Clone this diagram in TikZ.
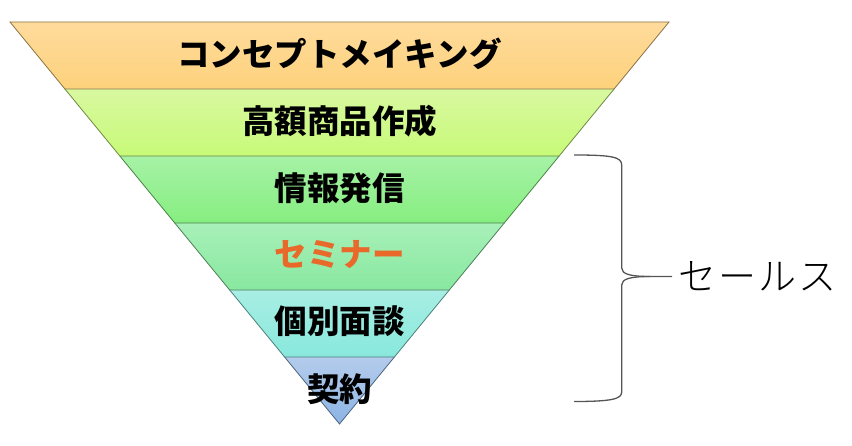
\documentclass[tikz,border=0pt]{standalone}
\usepackage{fontspec}
\setmainfont{Noto Sans CJK JP}[BoldFont={Noto Sans CJK JP Black}]
\newfontfamily\lightjp{Noto Sans CJK JP Light}
\usetikzlibrary{calc}
\definecolor{cAt}{HTML}{FFDB9C}\definecolor{cAb}{HTML}{FDD27C}
\definecolor{cBt}{HTML}{D8F8A0}\definecolor{cBb}{HTML}{C8FA78}
\definecolor{cCt}{HTML}{A6F2A6}\definecolor{cCb}{HTML}{86EE80}
\definecolor{cDt}{HTML}{A8F0B8}\definecolor{cDb}{HTML}{88E8A0}
\definecolor{cEt}{HTML}{A8EEE4}\definecolor{cEb}{HTML}{88E8DC}
\definecolor{cFt}{HTML}{B4CCEC}\definecolor{cFb}{HTML}{8CB4E4}
\definecolor{semi}{HTML}{E8692A}
\definecolor{braceline}{HTML}{555555}
\tikzset{
  bandlabel/.style={font=\bfseries\fontsize{32.5}{32.5}\selectfont, text=black, inner sep=0pt, anchor=center},
  bandedge/.style={line width=0.8pt},
  bracepath/.style={draw=braceline, line width=1.3pt},
}
\begin{document}
\begin{tikzpicture}[x=1pt,y=-1pt]
\useasboundingbox (0,0) rectangle (852,446);
\coordinate (L0) at (10,22);
\coordinate (R0) at (669,22);
\coordinate (A) at (339.5,424);
\foreach \i in {1,...,5}{
  \coordinate (L\i) at ($(L0)!\i/6!(A)$);
  \coordinate (R\i) at ($(R0)!\i/6!(A)$);
}
% bands
\shade[top color=cAt, bottom color=cAb] (L0) -- (R0) -- (R1) -- (L1) -- cycle;
\shade[top color=cBt, bottom color=cBb] (L1) -- (R1) -- (R2) -- (L2) -- cycle;
\shade[top color=cCt, bottom color=cCb] (L2) -- (R2) -- (R3) -- (L3) -- cycle;
\shade[top color=cDt, bottom color=cDb] (L3) -- (R3) -- (R4) -- (L4) -- cycle;
\shade[top color=cEt, bottom color=cEb] (L4) -- (R4) -- (R5) -- (L5) -- cycle;
\shade[top color=cFt, bottom color=cFb] (L5) -- (R5) -- (A) -- cycle;
\draw[bandedge, draw=cAb!55!black] (L0) -- (R0) -- (R1) -- (L1) -- cycle;
\draw[bandedge, draw=cBb!55!black] (R1) -- (R2) -- (L2) -- (L1);
\draw[bandedge, draw=cCb!55!black] (R2) -- (R3) -- (L3) -- (L2);
\draw[bandedge, draw=cDb!55!black] (R3) -- (R4) -- (L4) -- (L3);
\draw[bandedge, draw=cEb!55!black] (R4) -- (R5) -- (L5) -- (L4);
\draw[bandedge, draw=cFb!55!black] (R5) -- (A) -- (L5);
% labels
\node[bandlabel] (t1) at (339.5,54) {コンセプトメイキング};
\node[bandlabel] (t2) at (339.5,121) {高額商品作成};
\node[bandlabel] (t3) at (339.5,188) {情報発信};
\node[bandlabel, text=semi] (t4) at (339.5,255) {セミナー};
\node[bandlabel] (t5) at (339.5,321) {個別面談};
\node[bandlabel] (t6) at (339.5,389) {契約};
% brace
\coordinate (bT) at (574,155);
\coordinate (bB) at (574,401.5);
\coordinate (bM) at (672,276.5);
\path[bracepath] (bT) .. controls (612,155) and (621.7,157) .. (621.7,165)
  -- (621.7,268) .. controls (621.7,274) and (630,276.5) .. (650,276.5)
  -- (bM);
\path[bracepath] (650,276.5) .. controls (630,276.5) and (621.7,279) .. (621.7,285)
  -- (621.7,392) .. controls (621.7,399) and (612,401.5) .. (bB);
\node[font=\lightjp\fontsize{38}{38}\selectfont, anchor=west, inner sep=0pt] (sales) at (678,276.5) {セ\hspace{2pt}ー\hspace{2pt}ル\hspace{2pt}ス};
\end{tikzpicture}
\end{document}
